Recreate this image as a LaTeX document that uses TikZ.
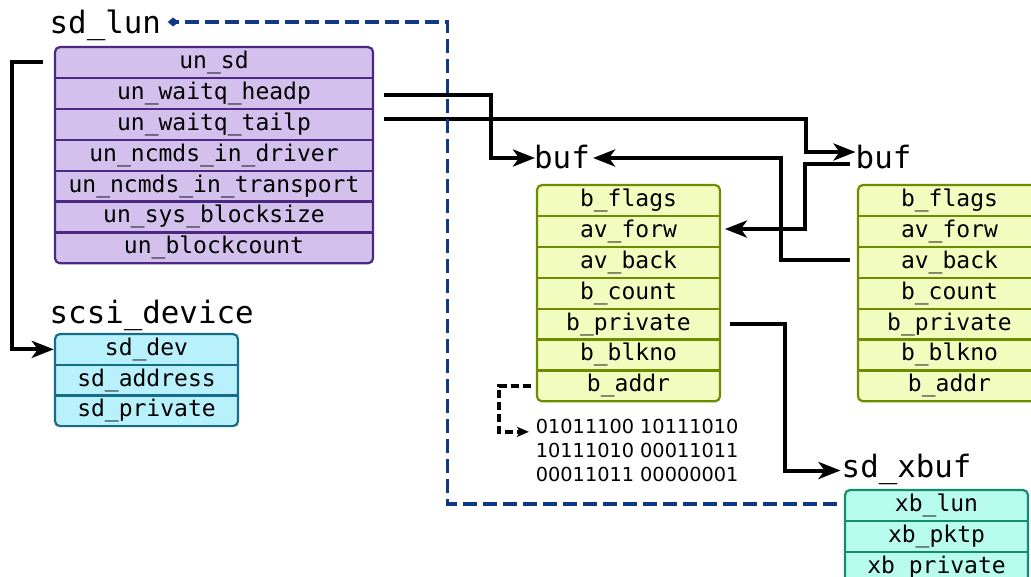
\documentclass[tikz,border=0pt]{standalone}
\usepackage{fontspec}
\usetikzlibrary{arrows.meta}
\newfontfamily\monofam{DejaVu Sans Mono}
\newfontfamily\sansfam{DejaVu Sans}
\newcommand{\fieldfont}{\monofam\fontsize{23}{27}\selectfont}
\newcommand{\titlefont}{\monofam\fontsize{30.8}{34}\selectfont}
\newcommand{\bitsfont}{\sansfam\fontsize{19.3}{24}\selectfont}
\definecolor{lunfill}{RGB}{211,192,237}
\definecolor{lunline}{RGB}{75,40,130}
\definecolor{scsifill}{RGB}{184,240,252}
\definecolor{scsiline}{RGB}{20,110,135}
\definecolor{buffill}{RGB}{242,252,190}
\definecolor{bufline}{RGB}{110,140,0}
\definecolor{xbuffill}{RGB}{184,252,238}
\definecolor{xbufline}{RGB}{20,140,110}
\definecolor{linkblue}{RGB}{16,56,132}
% #1 prefix, #2 L, #3 T, #4 W, #5 H, #6 n, #7 colour prefix, #8 fields
\newcommand{\structbox}[8]{%
  \fill[#7fill, rounded corners=5pt] (#2,#3) rectangle ({#2+#4},{#3+#6*#5});
  \foreach \f [count=\i] in {#8} {
    \node[field, minimum width=#4pt, minimum height=#5pt] (#1\i) at ({#2+#4/2},{#3+(\i-0.5)*#5}) {\f};
    \ifnum\i>1
      \draw[#7line, line width=2.2pt] (#2,{#3+(\i-1)*#5}) -- ({#2+#4},{#3+(\i-1)*#5});
    \fi
  }
  \draw[#7line, line width=2.2pt, rounded corners=5pt] (#2,#3) rectangle ({#2+#4},{#3+#6*#5});
}
\tikzset{
  field/.style={rectangle, inner sep=0pt, text height=17pt, text depth=5pt, font=\fieldfont},
  title/.style={inner sep=0pt, anchor=base west, text height=22pt, text depth=6pt, font=\titlefont},
  bits/.style={inner sep=0pt, anchor=base west, font=\bitsfont},
  conn/.style={draw=black, line width=4pt, -{Stealth[length=22pt, width=17pt, inset=6pt]}},
  dconn/.style={draw=black, line width=3.3pt, dash pattern=on 8pt off 4pt, -{Stealth[length=12pt, width=10pt, inset=3pt]}},
  bdash/.style={draw=linkblue, line width=3.8pt, dash pattern=on 14pt off 6pt, -{Diamond[length=11pt, width=9pt]}},
}
\begin{document}
\begin{tikzpicture}[x=1pt, y=-1pt]
\useasboundingbox (0,0) rectangle (1031,576);
\fill[white] (0,0) rectangle (1031,576);

% titles
\node[title] (tsdlun) at (49.5,33.3) {sd\_lun};
\node[title] (tscsi) at (49.5,323) {scsi\_device};
\node[title] (tbuf1) at (534,168) {buf};
\node[title] (tbuf2) at (855.5,168) {buf};
\node[title] (txbuf) at (841.5,477) {sd\_xbuf};

% structures
\structbox{lun}{55}{47}{318}{30.9}{7}{lun}{un\_sd,un\_waitq\_headp,un\_waitq\_tailp,un\_ncmds\_in\_driver,un\_ncmds\_in\_transport,un\_sys\_blocksize,un\_blockcount}
\structbox{scsi}{55}{334}{183}{30.7}{3}{scsi}{sd\_dev,sd\_address,sd\_private}
\structbox{bfa}{537}{185}{183}{30.9}{7}{buf}{b\_flags,av\_forw,av\_back,b\_count,b\_private,b\_blkno,b\_addr}
\structbox{bfb}{858}{185}{183}{30.9}{7}{buf}{b\_flags,av\_forw,av\_back,b\_count,b\_private,b\_blkno,b\_addr}
\structbox{xb}{845}{490}{183}{30.8}{3}{xbuf}{xb\_lun,xb\_pktp,xb\_private}

% binary data
\node[bits] (bits1) at (535.7,433.5) {01011100 10111010};
\node[bits] (bits2) at (535.7,457.5) {10111010 00011011};
\node[bits] (bits3) at (535.7,481.5) {00011011 00000001};

% connectors
\draw[conn] ([xshift=-11.5pt]lun1.west) -| ([xshift=-43pt]scsi1.west) -- ([xshift=-1pt]scsi1.west);
\draw[conn] ([xshift=11pt,yshift=-1.5pt]lun2.east) -| ([xshift=-43pt,yshift=2pt]tbuf1.west) -- ([xshift=1pt,yshift=2pt]tbuf1.west);
\draw[conn] ([xshift=11pt,yshift=5pt]lun3.east) -| ([xshift=-49.5pt,yshift=8pt]tbuf2.west) -- ([yshift=8pt]tbuf2.west);
\draw[conn] ([xshift=-6pt,yshift=-4pt]tbuf2.west) -| ([xshift=85pt,yshift=2.3pt]bfa2.east) -- ([xshift=4.7pt,yshift=2.3pt]bfa2.east);
\draw[conn] ([xshift=-8pt,yshift=2pt]bfb3.west) -| ([xshift=191pt,yshift=2pt]tbuf1.east) -- ([xshift=3pt,yshift=2pt]tbuf1.east);
\draw[conn] ([xshift=9.5pt]bfa5.east) -| ([xshift=-56.5pt,yshift=-1.5pt]txbuf.west) -- ([xshift=-1pt,yshift=-1.5pt]txbuf.west);
\draw[dconn] ([xshift=-6pt]bfa7.west) -| ([xshift=-36.7pt,yshift=-5.4pt]bits1.west) -- ([xshift=-6.7pt,yshift=-5.4pt]bits1.west);
\draw[bdash] ([xshift=-8pt,yshift=1.4pt]xb1.west) -| ([xshift=286.3pt,yshift=3.3pt]tsdlun.east) -- ([xshift=6.5pt,yshift=3.3pt]tsdlun.east);
\end{tikzpicture}
\end{document}
